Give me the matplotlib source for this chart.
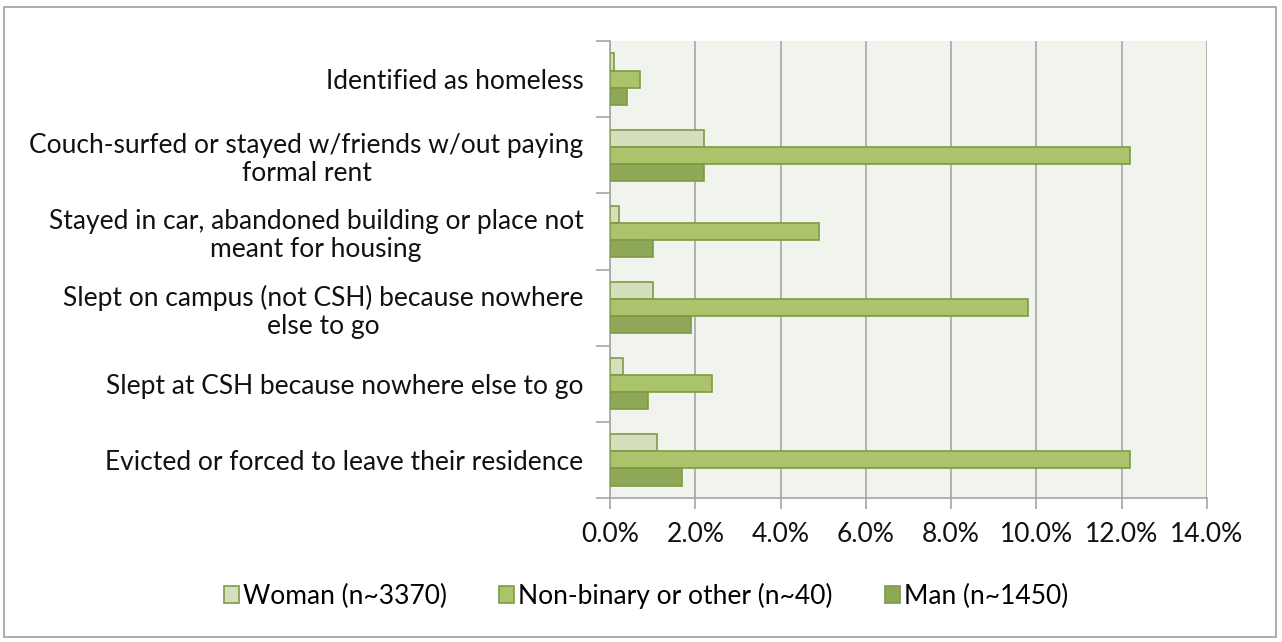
import matplotlib
matplotlib.use('Agg')
import matplotlib.pyplot as plt
from matplotlib.patches import Rectangle
import numpy as np

plt.rcParams['font.family'] = ['Lato', 'DejaVu Sans']

# Data
categories = [
    'Identified as homeless',
    'Couch-surfed or stayed w/friends w/out paying\nformal rent',
    'Stayed in car, abandoned building or place not\nmeant for housing',
    'Slept on campus (not CSH) because nowhere\nelse to go',
    'Slept at CSH because nowhere else to go',
    'Evicted or forced to leave their residence',
]
series_names = ['Woman (n~3370)', 'Non-binary or other (n~40)', 'Man (n~1450)']
woman = [0.1, 2.2, 0.2, 1.0, 0.3, 1.1]
nonbinary = [0.7, 12.2, 4.9, 9.8, 2.4, 12.2]
man = [0.4, 2.2, 1.0, 1.9, 0.9, 1.7]
x_ticks = [0, 2, 4, 6, 8, 10, 12, 14]

colors = ['#d3dfbd', '#abc46c', '#8ea857']
edge = '#7e9a46'
fs = 19

fig = plt.figure(figsize=(12.82, 6.42), dpi=100)
ax = fig.add_axes([610 / 1282, 1 - 498 / 642, 597 / 1282, 457 / 642])
ax.set_facecolor('#f1f4ed')

y = np.arange(len(categories))
h = 0.225
for k, (vals, c) in enumerate(zip([woman, nonbinary, man], colors)):
    ax.barh(y + (k - 1) * h, vals, height=h, color=c, edgecolor=edge,
            linewidth=1.2, label=series_names[k], zorder=3)

ax.set_xlim(0, 14)
ax.set_ylim(len(categories) - 0.5, -0.5)
ax.set_xticks(x_ticks)
ax.set_xticklabels([f'{v:.1f}%' for v in x_ticks], fontsize=fs, color='#111111')
ax.xaxis.grid(True, color='#a5a5a5', linewidth=1.2, zorder=1)

# category boundaries as major ticks, labels on minor ticks
ax.set_yticks(np.arange(-0.5, len(categories), 1.0))
ax.set_yticklabels([])
ax.set_yticks(y, minor=True)
ax.set_yticklabels(categories, minor=True, fontsize=fs, color='#111111',
                   multialignment='center', linespacing=1.15)
ax.tick_params(axis='y', which='major', length=10, width=1.2, color='#a5a5a5')
ax.tick_params(axis='y', which='minor', length=0, pad=19)
ax.tick_params(axis='x', length=8, width=1.2, color='#a5a5a5', pad=9)

for s in ['top', 'right']:
    ax.spines[s].set_visible(False)
for s in ['left', 'bottom']:
    ax.spines[s].set_color('#a5a5a5')
    ax.spines[s].set_linewidth(1.2)

fig.legend(loc='center', bbox_to_anchor=(646 / 1282, 1 - 596 / 642), ncol=3,
           frameon=False, fontsize=fs, handlelength=0.55, handleheight=0.6,
           handletextpad=0.15, columnspacing=2.0)

fig.patches.append(Rectangle((4 / 1282, 1 - 637 / 642), 1272 / 1282, 630 / 642,
                             transform=fig.transFigure, fill=False,
                             edgecolor='#a0a0a0', linewidth=1.2))

fig.savefig('out.png', dpi=100)
